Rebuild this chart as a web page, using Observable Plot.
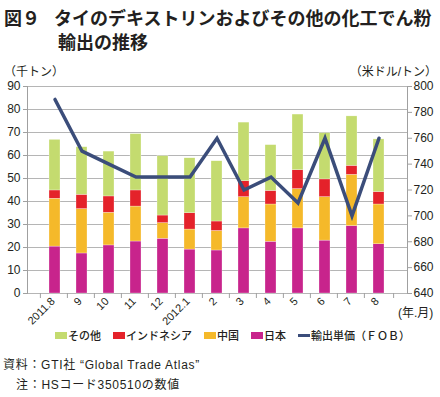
<!DOCTYPE html>
<html><head><meta charset="utf-8">
<script src="https://cdn.jsdelivr.net/npm/d3@7"></script>
<script src="https://cdn.jsdelivr.net/npm/@observablehq/plot@0.6"></script>
<style>
body{margin:0;background:#fff;font-family:"Liberation Sans","Noto Sans CJK JP",sans-serif;color:#231f20;}
#wrap{position:relative;width:440px;height:397px;overflow:hidden;}
.abs{position:absolute;white-space:nowrap;}
.title{font-family:"Noto Sans CJK JP",sans-serif;font-weight:700;font-size:18px;line-height:22px;}
.unit{font-size:12px;}
.note{font-size:12px;letter-spacing:0.7px;}
#legend{display:flex;align-items:center;font-size:11px;font-weight:500;}
#legend .sw{display:inline-block;width:12px;height:7px;margin-right:1px;}
#legend .ln{display:inline-block;width:12px;height:3px;margin-right:1px;}
#legend span.t{margin-right:12px;}
</style></head>
<body><div id="wrap">
<div class="abs title" style="left:4px;top:6px;">図９<span style="margin-left:14px">タイのデキストリンおよびその他の化工でん粉</span></div>
<div class="abs title" style="left:58px;top:30px;">輸出の推移</div>
<div class="abs unit" style="left:4px;top:62px;">（千トン）</div>
<div class="abs unit" style="right:3px;top:62px;">（米ドル/トン）</div>
<div id="chart" class="abs" style="left:0;top:60px;"></div>
<div class="abs unit" style="left:398px;top:303px;">(年.月)</div>
<div id="legend" class="abs" style="left:55px;top:327px;"></div>
<div class="abs note" style="left:3px;top:355px;">資料：GTI社 “Global Trade Atlas”</div>
<div class="abs note" style="left:16px;top:375px;">注：HSコード350510の数値</div>
</div>
<script>
const months = ["2011.8","9","10","11","12","2012.1","2","3","4","5","6","7","8"];
const seriesNames = ["日本","中国","インドネシア","その他"];
const seriesColors = ["#c8248c","#f5b92a","#e4222a","#c4db6f"];
const japan = [20.4,17.4,20.9,22.6,23.8,19.1,18.7,28.3,22.5,28.3,23.0,29.3,21.4];
const china = [20.8,19.3,14.2,15.2,6.8,8.7,8.5,13.6,16.2,17.1,18.9,22.3,17.3];
const indonesia = [3.6,6.2,7.1,7.0,3.3,7.1,4.1,6.9,5.9,8.2,7.7,3.9,5.4];
const other = [22.0,20.7,19.5,24.5,25.8,23.9,26.2,25.5,19.9,24.2,20.1,21.5,22.9];
const fob = [790,750,740,730,730,730,760,720,730,710,760,700,760];
const leftTicks = [0,10,20,30,40,50,60,70,80,90];
const rightTicks = [640,660,680,700,720,740,760,780,800];
const lineName = "輸出単価（ＦＯＢ）";
const lineColor = "#3b4d7a";

const toLeft = v => (v - 640) * 90 / 160;
const fromLeft = v => Math.round(v * 160 / 90 + 640);
const all = [japan, china, indonesia, other];
const rows = [];
months.forEach((m, i) => all.forEach((arr, s) => rows.push({month: m, series: seriesNames[s], value: arr[i]})));
const linePts = months.map((m, i) => ({month: m, v: toLeft(fob[i])}));

const W = 440, H = 275, mL = 27, mR = 33, mT = 26, mB = 42;
const step = (W - mL - mR) / months.length;
const font = '"Liberation Sans","Noto Sans CJK JP",sans-serif';

const chart = Plot.plot({
  width: W, height: H, marginLeft: mL, marginRight: mR, marginTop: mT, marginBottom: mB,
  style: {fontFamily: font, fontSize: "12px", color: "#231f20", background: "transparent", overflow: "visible"},
  x: {domain: months, padding: 0.58, axis: null, label: null},
  y: {domain: [0, 90], axis: null, label: null},
  color: {domain: seriesNames, range: seriesColors},
  marks: [
    Plot.gridY(leftTicks, {stroke: "#b5b5b5", strokeOpacity: 1}),
    Plot.frame({anchor: "left", stroke: "#a0a0a0"}),
    Plot.frame({anchor: "right", stroke: "#a0a0a0"}),
    Plot.axisY(leftTicks, {anchor: "left", tickSize: 4, tickPadding: 3, stroke: "#a0a0a0", fontSize: 12, label: null}),
    Plot.axisY(rightTicks.map(toLeft), {anchor: "right", tickSize: 4, tickPadding: 2, stroke: "#a0a0a0", tickFormat: d => String(fromLeft(d)), fontSize: 12, label: null}),
    Plot.axisX(months, {anchor: "bottom", tickSize: 5, tickFormat: () => "", dx: -step / 2, stroke: "#a0a0a0", label: null}),
    Plot.axisX(months.slice(-1), {anchor: "bottom", tickSize: 5, tickFormat: () => "", dx: step / 2, stroke: "#a0a0a0", label: null}),
    Plot.axisX(months, {anchor: "bottom", tickSize: 0, tickPadding: 6, tickRotate: -45, fontSize: 11, dx: -2, label: null}),
    Plot.barY(rows, {x: "month", y: "value", fill: "series", stroke: "#fff", strokeWidth: 0.4, strokeOpacity: 0.7}),
    Plot.line(linePts, {x: "month", y: "v", stroke: lineColor, strokeWidth: 3.5, strokeLinejoin: "miter", strokeMiterlimit: 10})
  ]
});
document.getElementById("chart").appendChild(chart);

const lg = document.getElementById("legend");
seriesNames.slice().reverse().forEach((n, k) => {
  const c = seriesColors[seriesNames.length - 1 - k];
  lg.insertAdjacentHTML("beforeend", `<span class="sw" style="background:${c}"></span><span class="t">${n}</span>`);
});
lg.insertAdjacentHTML("beforeend", `<span class="ln" style="background:${lineColor}"></span><span>${lineName}</span>`);
</script>
</body></html>
